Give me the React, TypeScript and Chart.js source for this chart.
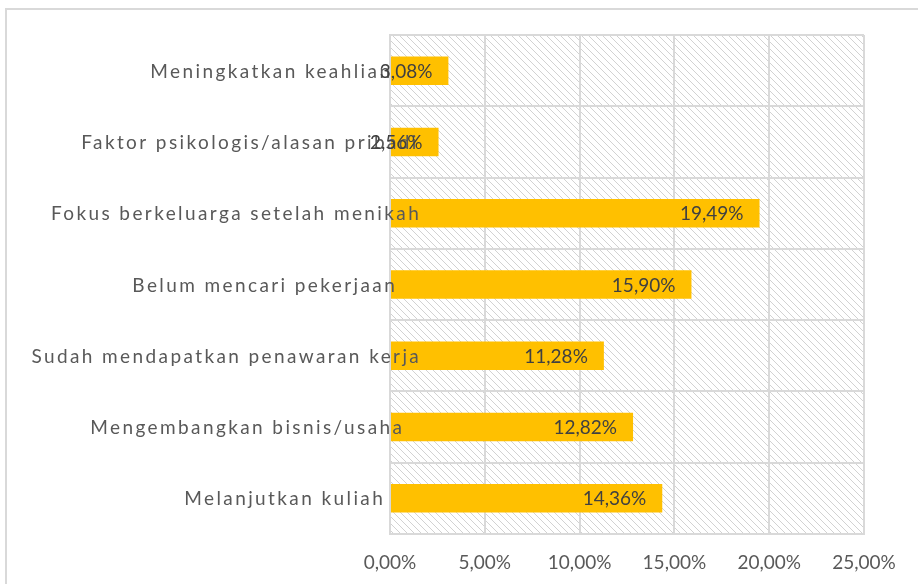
import { useEffect, useRef } from 'react';
import { Chart, registerables } from 'chart.js';

Chart.register(...registerables);

const categories = [
  'Meningkatkan keahlian',
  'Faktor psikologis/alasan pribadi',
  'Fokus berkeluarga setelah menikah',
  'Belum mencari pekerjaan',
  'Sudah mendapatkan penawaran kerja',
  'Mengembangkan bisnis/usaha',
  'Melanjutkan kuliah',
];
const values = [3.08, 2.56, 19.49, 15.9, 11.28, 12.82, 14.36];
const xTicks = [0, 5, 10, 15, 20, 25];

const FONT = 'Lato, "Open Sans", sans-serif';
const fmt = (v: number) => v.toFixed(2).replace('.', ',') + '%';

export default function App() {
  const ref = useRef<HTMLCanvasElement>(null);

  useEffect(() => {
    const canvas = ref.current!;
    const pc = document.createElement('canvas');
    pc.width = 7;
    pc.height = 7;
    const pctx = pc.getContext('2d')!;
    pctx.fillStyle = '#ffffff';
    pctx.fillRect(0, 0, 7, 7);
    pctx.strokeStyle = '#d2d2d2';
    pctx.lineWidth = 1;
    pctx.beginPath();
    pctx.moveTo(-1, -1);
    pctx.lineTo(8, 8);
    pctx.moveTo(-1, 6);
    pctx.lineTo(1, 8);
    pctx.moveTo(6, -1);
    pctx.lineTo(8, 1);
    pctx.stroke();
    const hatch = canvas.getContext('2d')!.createPattern(pc, 'repeat')!;

    const bgPlugin = {
      id: 'bg',
      beforeDraw(chart: any) {
        const { ctx, chartArea: a } = chart;
        ctx.save();
        ctx.fillStyle = '#ffffff';
        ctx.fillRect(0, 0, chart.width, chart.height);
        ctx.strokeStyle = '#d9d9d9';
        ctx.lineWidth = 2;
        ctx.beginPath();
        ctx.moveTo(6, chart.height);
        ctx.lineTo(6, 9);
        ctx.lineTo(chart.width, 9);
        ctx.stroke();
        ctx.fillStyle = hatch;
        ctx.fillRect(a.left, a.top, a.right - a.left, a.bottom - a.top);
        ctx.restore();
      },
    };

    const labelPlugin = {
      id: 'labels',
      afterDatasetsDraw(chart: any) {
        const { ctx, chartArea: a } = chart;
        const meta = chart.getDatasetMeta(0);
        const yScale = chart.scales.y;
        ctx.save();
        ctx.font = `19px ${FONT}`;
        ctx.textBaseline = 'middle';
        // category labels
        ctx.fillStyle = '#595959';
        ctx.textAlign = 'left';
        categories.forEach((c, i) => {
          const y = yScale.getPixelForValue(i);
          (ctx as any).letterSpacing = '0px';
          const w = ctx.measureText(c).width;
          (ctx as any).letterSpacing = '2.4px';
          ctx.fillText(c, a.left - 48 - w, y + 1);
        });
        (ctx as any).letterSpacing = '0px';
        // data labels
        ctx.fillStyle = '#404040';
        ctx.textAlign = 'right';
        meta.data.forEach((bar: any, i: number) => {
          ctx.fillText(fmt(values[i]), bar.x - 16, bar.y + 1);
        });
        ctx.restore();
      },
    };

    const chart = new Chart(canvas, {
      type: 'bar',
      data: {
        labels: categories,
        datasets: [
          {
            data: values,
            backgroundColor: '#FFC000',
            borderWidth: 0,
            barPercentage: 0.4,
            categoryPercentage: 1,
          },
        ],
      },
      options: {
        indexAxis: 'y',
        responsive: false,
        animation: false,
        devicePixelRatio: 1,
        layout: { padding: { left: 0, right: 54, top: 35, bottom: 0 } },
        plugins: {
          legend: { display: false },
          tooltip: { enabled: false },
        },
        scales: {
          x: {
            type: 'linear',
            min: 0,
            max: 25,
            afterBuildTicks: (s: any) => {
              s.ticks = xTicks.map((v) => ({ value: v }));
            },
            afterFit: (s: any) => {
              s.height = 50;
            },
            grid: { color: '#d9d9d9', lineWidth: 2, drawTicks: false },
            border: { display: true, color: '#d9d9d9', width: 2 },
            ticks: {
              color: '#595959',
              font: { family: FONT, size: 19 },
              padding: 17,
              callback: (v: any) => fmt(Number(v)),
            },
          },
          y: {
            type: 'category',
            offset: true,
            afterFit: (s: any) => {
              s.width = 390;
            },
            grid: { color: '#d9d9d9', lineWidth: 2, drawTicks: false, offset: true },
            border: { display: true, color: '#d9d9d9', width: 2 },
            ticks: { display: false },
          },
        },
      },
      plugins: [bgPlugin, labelPlugin],
    });
    return () => chart.destroy();
  }, []);

  return (
    <canvas
      ref={ref}
      width={918}
      height={584}
      style={{ position: 'fixed', left: 0, top: 0, width: 918, height: 584 }}
    />
  );
}
